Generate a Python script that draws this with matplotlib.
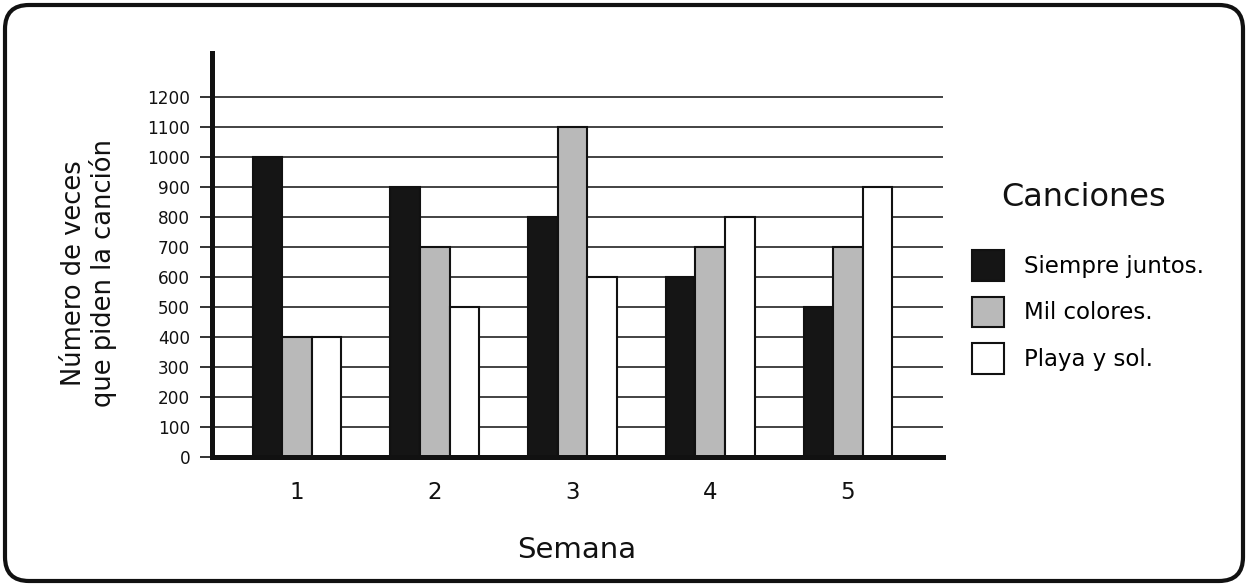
import matplotlib.pyplot as plt
import matplotlib.transforms as mtransforms
from matplotlib.patches import FancyBboxPatch, Patch
import numpy as np

plt.rcParams['font.family'] = ['DejaVu Sans']

# data
semanas = ["1", "2", "3", "4", "5"]
canciones = ["Siempre juntos.", "Mil colores.", "Playa y sol."]
siempre_juntos = [1000, 900, 800, 600, 500]
mil_colores = [400, 700, 1100, 700, 700]
playa_y_sol = [400, 500, 600, 800, 900]
colores = ["#151515", "#b9b9b9", "#ffffff"]
yticks = list(range(0, 1300, 100))

fig = plt.figure(figsize=(12.48, 5.86), dpi=100)
ax = fig.add_axes([212 / 1248, 1 - 457 / 586, (943 - 212) / 1248, (457 - 53) / 586])

x = np.arange(len(semanas))
w = 0.215
series = [siempre_juntos, mil_colores, playa_y_sol]
for i, vals in enumerate(series):
    ax.bar(x + (i - 1) * w, vals, width=w, color=colores[i], edgecolor="#111111",
           linewidth=1.5, zorder=3)

ax.set_xlim(-0.617, 4.69)
ax.set_ylim(0, 1347)
ax.set_yticks(yticks)
ax.set_yticklabels([str(v) for v in yticks], fontsize=12.2, color="#111111")
ax.set_xticks(x)
ax.set_xticklabels(semanas, fontsize=16.5, color="#111111")
ax.tick_params(axis="y", length=8.6, width=1.2, pad=7, color="#111111")
ax.tick_params(axis="x", length=0, pad=17)
ax.yaxis.grid(True, color="#222222", linewidth=1.2, zorder=0)
ax.set_axisbelow(True)

for s in ["top", "right"]:
    ax.spines[s].set_visible(False)
ax.spines["left"].set_linewidth(3.6)
ax.spines["bottom"].set_linewidth(3.6)
ax.spines["left"].set_color("#111111")
ax.spines["bottom"].set_color("#111111")
ax.spines["bottom"].set_zorder(4)

fig.text(89 / 1248, 1 - 273 / 586, "Número de veces\nque piden la canción",
         rotation=90, ha="center", va="center", fontsize=18.5, color="#111111",
         multialignment="center", linespacing=1.1)
fig.text(577 / 1248, 1 - 550 / 586, "Semana", ha="center", va="center",
         fontsize=21, color="#111111")
fig.text(1084 / 1248, 1 - 198 / 586, "Canciones", ha="center", va="center",
         fontsize=23, color="#111111")

handles = [Patch(facecolor=colores[i], edgecolor="#111111", linewidth=1.5)
           for i in range(3)]
fig.legend(handles, canciones, loc="upper left",
           bbox_to_anchor=(972 / 1248, 1 - 250 / 586), frameon=False,
           fontsize=16.5, handlelength=1.4, handleheight=1.68,
           handletextpad=0.85, labelspacing=0.7, borderpad=0, borderaxespad=0)

# rounded frame around the whole picture
frame = FancyBboxPatch((5, 5), 1238, 576, boxstyle="round,pad=0,rounding_size=24",
                       transform=mtransforms.IdentityTransform(),
                       facecolor="none", edgecolor="#111111", linewidth=3)
fig.patches.append(frame)

fig.savefig("out.png", dpi=100)
